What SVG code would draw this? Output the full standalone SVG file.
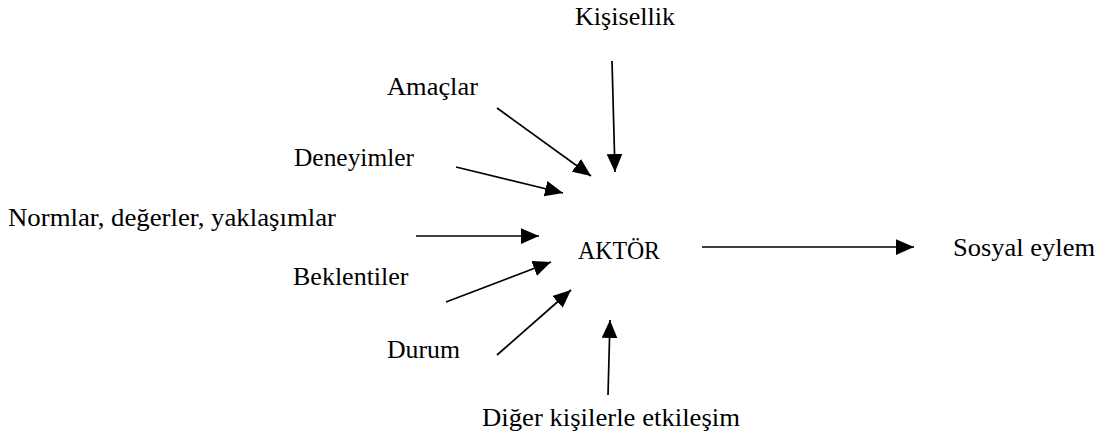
<svg xmlns="http://www.w3.org/2000/svg" width="1108" height="442" viewBox="0 0 1108 442">
<style>
  text { font-family: "Liberation Serif", "Times New Roman", serif; font-size: 26px; fill: #000; }
  .c line { stroke: #000; stroke-width: 1.7; marker-end: url(#ah); }
</style>
<defs>
  <marker id="ah" markerUnits="userSpaceOnUse" markerWidth="18" markerHeight="16" refX="16" refY="7" orient="auto" viewBox="0 0 16 14">
    <path d="M0,0 L16,7 L0,14 z" fill="#000"/>
  </marker>
</defs>
<rect width="1108" height="442" fill="#fff"/>
<g id="n-kisisellik"><text x="575" y="25" textLength="100" lengthAdjust="spacingAndGlyphs">Kişisellik</text></g>
<g id="n-amaclar"><text x="387" y="95" textLength="91" lengthAdjust="spacingAndGlyphs">Amaçlar</text></g>
<g id="n-deneyimler"><text x="294" y="166" textLength="120" lengthAdjust="spacingAndGlyphs">Deneyimler</text></g>
<g id="n-normlar"><text x="8" y="226" textLength="328" lengthAdjust="spacingAndGlyphs">Normlar, değerler, yaklaşımlar</text></g>
<g id="n-aktor"><text x="578" y="259" textLength="82" lengthAdjust="spacingAndGlyphs">AKTÖR</text></g>
<g id="n-beklentiler"><text x="293" y="285">Beklentiler</text></g>
<g id="n-durum"><text x="387" y="358" textLength="73" lengthAdjust="spacingAndGlyphs">Durum</text></g>
<g id="n-diger"><text x="482" y="426" textLength="258" lengthAdjust="spacingAndGlyphs">Diğer kişilerle etkileşim</text></g>
<g id="n-sosyal"><text x="953" y="256" textLength="142" lengthAdjust="spacingAndGlyphs">Sosyal eylem</text></g>
<g id="connectors" class="c">
  <line x1="612" y1="61" x2="615" y2="172"/>
  <line x1="497" y1="108" x2="591" y2="176"/>
  <line x1="456" y1="167" x2="563" y2="193"/>
  <line x1="416" y1="236" x2="539" y2="236"/>
  <line x1="446" y1="302" x2="551" y2="262"/>
  <line x1="497" y1="355" x2="571" y2="290"/>
  <line x1="608" y1="395" x2="610" y2="320"/>
  <line x1="702" y1="247" x2="914" y2="247"/>
</g>
</svg>
